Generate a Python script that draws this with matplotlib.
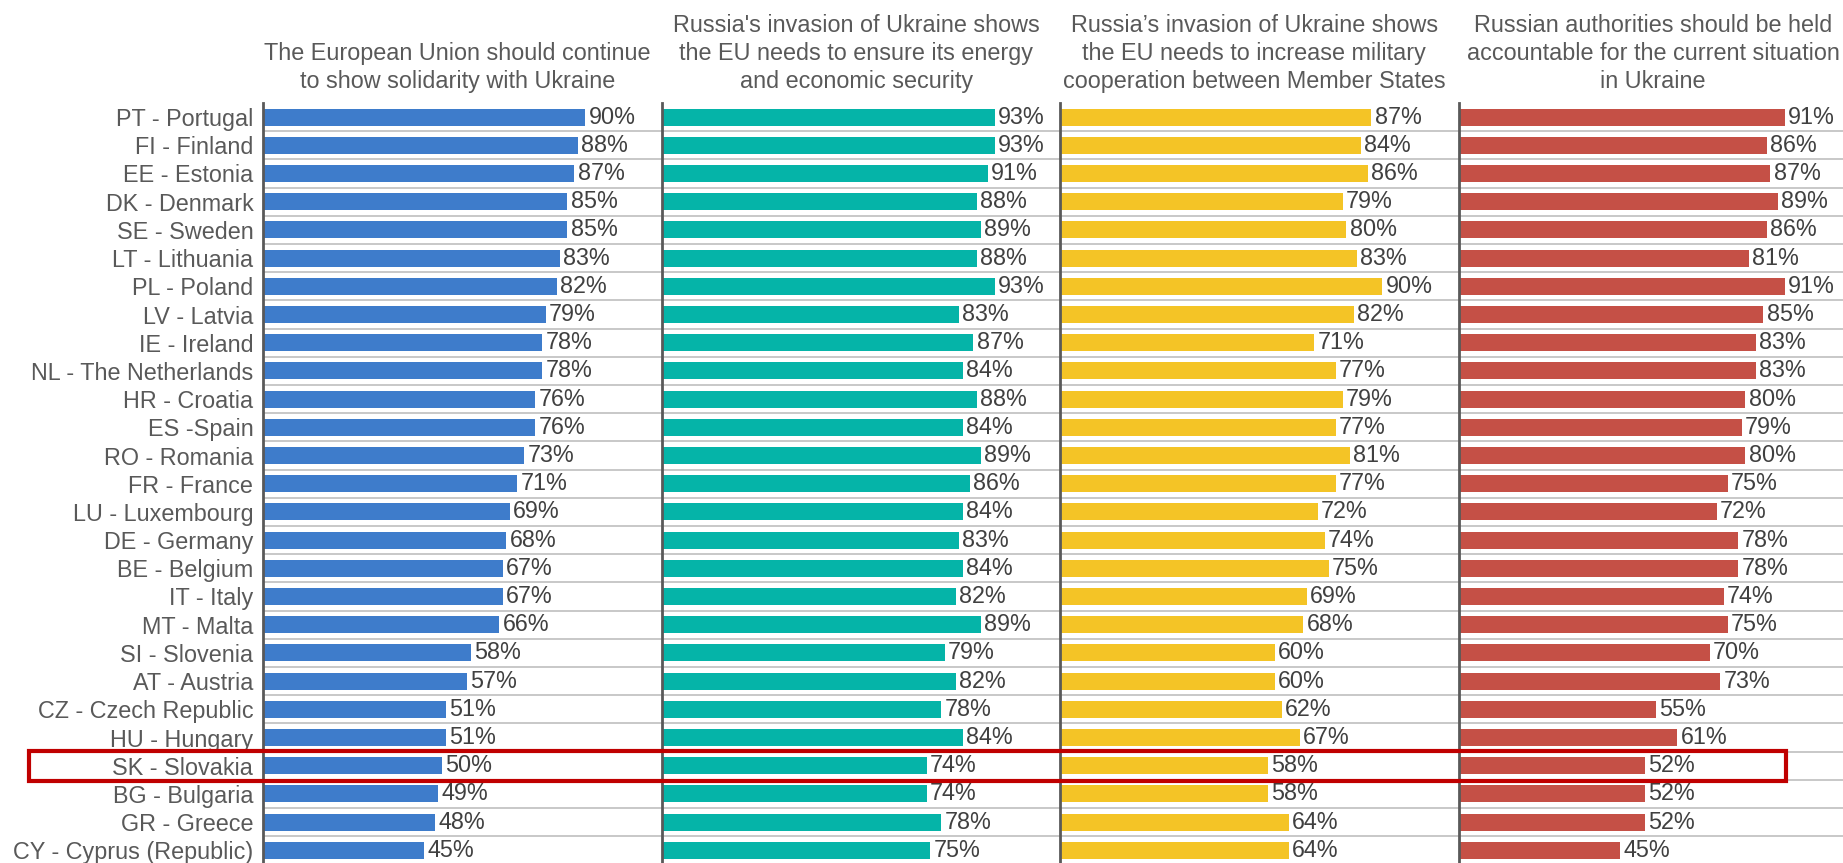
import matplotlib
matplotlib.use("Agg")
from matplotlib import pyplot as plt
from matplotlib.patches import Rectangle

plt.rcParams['font.family'] = ['Liberation Sans', 'DejaVu Sans']

countries = ['PT - Portugal', 'FI - Finland', 'EE - Estonia', 'DK - Denmark', 'SE - Sweden',
             'LT - Lithuania', 'PL - Poland', 'LV - Latvia', 'IE - Ireland', 'NL - The Netherlands',
             'HR - Croatia', 'ES -Spain', 'RO - Romania', 'FR - France', 'LU - Luxembourg',
             'DE - Germany', 'BE - Belgium', 'IT - Italy', 'MT - Malta', 'SI - Slovenia',
             'AT - Austria', 'CZ - Czech Republic', 'HU - Hungary', 'SK - Slovakia',
             'BG - Bulgaria', 'GR - Greece', 'CY - Cyprus (Republic)']

solidarity = [90, 88, 87, 85, 85, 83, 82, 79, 78, 78, 76, 76, 73, 71, 69, 68, 67, 67, 66, 58, 57, 51, 51, 50, 49, 48, 45]
energy = [93, 93, 91, 88, 89, 88, 93, 83, 87, 84, 88, 84, 89, 86, 84, 83, 84, 82, 89, 79, 82, 78, 84, 74, 74, 78, 75]
military = [87, 84, 86, 79, 80, 83, 90, 82, 71, 77, 79, 77, 81, 77, 72, 74, 75, 69, 68, 60, 60, 62, 67, 58, 58, 64, 64]
accountable = [91, 86, 87, 89, 86, 81, 91, 85, 83, 83, 80, 79, 80, 75, 72, 78, 78, 74, 75, 70, 73, 55, 61, 52, 52, 52, 45]

headers = ["The European Union should continue\nto show solidarity with Ukraine",
           "Russia's invasion of Ukraine shows\nthe EU needs to ensure its energy\nand economic security",
           "Russia\u2019s invasion of Ukraine shows\nthe EU needs to increase military\ncooperation between Member States",
           "Russian authorities should be held\naccountable for the current situation\nin Ukraine"]

series = [solidarity, energy, military, accountable]
colors = ['#3E7CCB', '#05B4A8', '#F4C426', '#C55046']
highlight = 'SK - Slovakia'

W, H = 1843, 863
fig = plt.figure(figsize=(W / 100, H / 100), dpi=100)

# layout in pixels
panel_left = [263, 662, 1060, 1459]
panel_w = 398.7
px_per_pct = 3.58
row_h = 28.2
top = 103
n = len(countries)
fs = 16.8

for k, (vals, col, head) in enumerate(zip(series, colors, headers)):
    x0 = panel_left[k]
    hgt = n * row_h
    ax = fig.add_axes([x0 / W, (H - top - hgt) / H, panel_w / W, hgt / H])
    y = list(range(n))
    ax.barh(y, vals, height=0.6, color=col, zorder=3)
    for yi, v in zip(y, vals):
        ax.text(v + 0.9, yi, f'{v}%', va='center', ha='left', fontsize=fs, color='#404040', zorder=4)
    for yi in range(n):
        ax.axhline(yi + 0.5, color='#C4C4C4', lw=1.3, zorder=1)
    ax.set_xlim(0, panel_w / px_per_pct)
    ax.set_ylim(n - 0.5, -0.5)
    ax.set_xticks([])
    for s in ['top', 'right', 'bottom']:
        ax.spines[s].set_visible(False)
    ax.spines['left'].set_color('#595959')
    ax.spines['left'].set_linewidth(2)
    ax.spines['left'].set_zorder(5)
    ax.set_yticks(y)
    if k == 0:
        ax.set_yticklabels(countries, fontsize=fs, color='#595959')
        ax.tick_params(axis='y', length=0, pad=7)
    else:
        ax.set_yticklabels([])
        ax.tick_params(axis='y', length=0)
    ax.patch.set_alpha(0)
    ax.text(0.487, 1 + 10 / hgt, head, transform=ax.transAxes, ha='center', va='bottom',
            fontsize=fs, color='#595959', linespacing=1.28, multialignment='center')

# red box around the highlighted row
i = countries.index(highlight)
yc = top + (i + 0.5) * row_h
bx0, bx1 = 29, 1786
by0, by1 = yc - 15, yc + 15
fig.add_artist(Rectangle((bx0 / W, (H - by1) / H), (bx1 - bx0) / W, (by1 - by0) / H,
                         transform=fig.transFigure, fill=False, edgecolor='#C00000', lw=3, zorder=10))

fig.savefig('out.png', dpi=100, facecolor='white')
